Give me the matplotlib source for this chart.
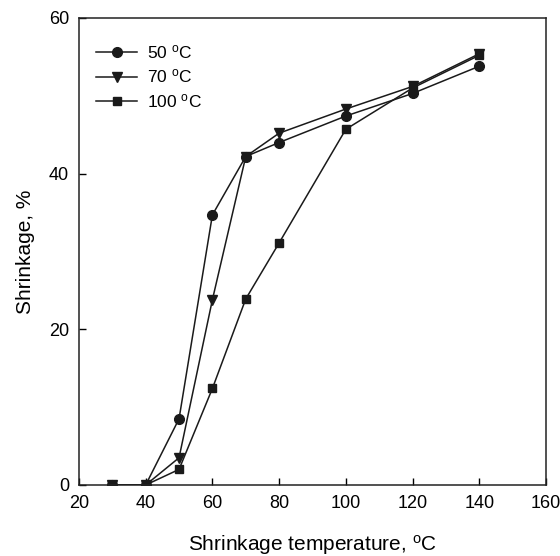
import matplotlib
matplotlib.use('Agg')
import matplotlib.pyplot as plt

plt.rcParams['font.family'] = ['Liberation Sans', 'DejaVu Sans']
plt.rcParams['mathtext.fontset'] = 'custom'
plt.rcParams['mathtext.rm'] = 'Liberation Sans'
plt.rcParams['mathtext.it'] = 'Liberation Sans'

# Shrinkage temperature (°C)
temps = [30, 40, 50, 60, 70, 80, 100, 120, 140]

# Shrinkage (%) for each treatment temperature
s50 = [0, 0, 8.5, 34.7, 42.2, 44.0, 47.4, 50.3, 53.8]
s70 = [0, 0, 3.5, 23.8, 42.2, 45.2, 48.3, 51.2, 55.4]
s100 = [0, 0, 2.0, 12.4, 23.9, 31.1, 45.7, 51.0, 55.2]

fig = plt.figure(figsize=(5.6, 5.56), dpi=100)
ax = fig.add_axes([0.141, 0.1277, 0.834, 0.84])

lc = '#1a1a1a'
ax.plot(temps, s50, '-o', color=lc, lw=1.1, ms=7, label='50 $^{\\mathrm{o}}$C')
ax.plot(temps, s70, '-v', color=lc, lw=1.1, ms=7, label='70 $^{\\mathrm{o}}$C')
ax.plot(temps, s100, '-s', color=lc, lw=1.1, ms=6, label='100 $^{\\mathrm{o}}$C')

ax.set_xlim(20, 160)
ax.set_ylim(0, 60)
ax.set_xticks([20, 40, 60, 80, 100, 120, 140, 160])
ax.set_yticks([0, 20, 40, 60])
ax.tick_params(direction='in', labelsize=13, length=5, width=1, pad=7)
for sp in ax.spines.values():
    sp.set_linewidth(1.1)
    sp.set_color('#222222')

ax.set_xlabel('Shrinkage temperature, $^{\\mathrm{o}}$C', fontsize=15, labelpad=15)
ax.set_ylabel('Shrinkage, %', fontsize=15, labelpad=10)

ax.legend(loc='upper left', frameon=False, fontsize=12.5, handlelength=2.4,
          handletextpad=0.55, borderaxespad=0, borderpad=0, labelspacing=0.38,
          bbox_to_anchor=(0.036, 0.946))

fig.savefig('out.png', dpi=100)
